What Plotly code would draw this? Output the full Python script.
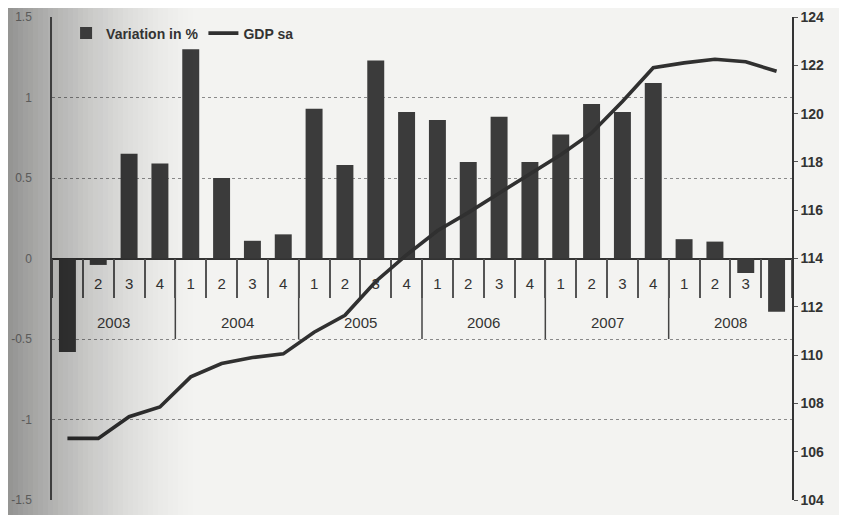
import plotly.graph_objects as go

years = ["2003"] * 4 + ["2004"] * 4 + ["2005"] * 4 + ["2006"] * 4 + ["2007"] * 4 + ["2008"] * 4
quarters = ["1", "2", "3", "4"] * 6
year_labels = ["2003", "2004", "2005", "2006", "2007", "2008"]

variation = [-0.58, -0.04, 0.65, 0.59, 1.30, 0.50, 0.11, 0.15,
             0.93, 0.58, 1.23, 0.91, 0.86, 0.60, 0.88, 0.60,
             0.77, 0.96, 0.91, 1.09, 0.12, 0.105, -0.09, -0.33]

gdp_sa = [106.55, 106.55, 107.45, 107.85, 109.1, 109.65, 109.9, 110.05,
          110.95, 111.65, 113.05, 114.15, 115.15, 115.9, 116.7, 117.5,
          118.3, 119.2, 120.5, 121.9, 122.1, 122.25, 122.15, 121.75]

left_ticks = [-1.5, -1.0, -0.5, 0, 0.5, 1.0, 1.5]
left_labels = ["-1.5", "-1", "-0.5", "0", "0.5", "1", "1.5"]
right_ticks = list(range(104, 125, 2))

cats = [f"{y} Q{q}" for y, q in zip(years, quarters)]
n = len(cats)

fig = go.Figure()
fig.add_trace(go.Bar(
    x=cats, y=variation, name="Variation in %",
    marker=dict(color="#3b3b3b", line=dict(width=0)),
    yaxis="y",
))
fig.add_trace(go.Scatter(
    x=cats, y=gdp_sa, name="GDP sa", mode="lines",
    line=dict(color="#303030", width=3.6),
    yaxis="y2",
))

shapes = []
# year separators in the category band
for k in range(1, len(year_labels)):
    xb = 4 * k - 0.5
    shapes.append(dict(type="line", xref="x", yref="y", x0=xb, x1=xb, y0=0, y1=-0.5,
                       line=dict(color="#444444", width=1.5), layer="below"))

# page-curl shadow at the left edge of the scan (figure is offset 8px by page margin)
L, PW = 44, 740
for i in range(40):
    p0 = i * 5
    p1 = p0 + 5
    mid = (p0 + p1) / 2 + 8
    t = max(0.0, 1 - mid / 200)
    a = 0.42 * t ** 1.5
    if a <= 0.003:
        continue
    shapes.append(dict(
        type="rect", xref="paper", yref="paper",
        x0=(p0 - L) / PW, x1=(p1 - L) / PW, y0=-0.05, y1=1.05,
        fillcolor="black", opacity=a, line=dict(width=0), layer="above",
    ))

annotations = []
for k, yl in enumerate(year_labels):
    annotations.append(dict(x=4 * k + 1.5, y=-0.395, xref="x", yref="y", text=yl,
                            showarrow=False, font=dict(size=15, color="#333333")))

fig.update_layout(
    width=839, height=507,
    margin=dict(l=44, r=55, t=9, b=15),
    paper_bgcolor="#f3f3f1", plot_bgcolor="#f3f3f1",
    font=dict(family="Liberation Sans, Arial, sans-serif", color="#333333"),
    bargap=0.45,
    showlegend=True,
    legend=dict(orientation="h", x=0.019, y=0.999, xanchor="left", yanchor="top",
                bgcolor="rgba(0,0,0,0)", font=dict(size=14, color="#333333", weight="bold"),
                itemwidth=30),
    xaxis=dict(
        type="category", range=[-0.5, n - 0.5], anchor="free", position=0.5,
        showline=True, linecolor="#333333", linewidth=1.5,
        ticks="outside", tickson="boundaries", ticklen=39, tickcolor="#555555", tickwidth=1.5,
        tickvals=cats, ticktext=quarters,
        tickfont=dict(size=15, color="#333333"), ticklabelstandoff=12,
        showgrid=False, layer="below traces", automargin=False,
    ),
    yaxis=dict(
        range=[-1.5, 1.5], tickvals=left_ticks, ticktext=left_labels,
        showgrid=True, gridcolor="#8a8a8a", griddash="dot", gridwidth=1,
        zeroline=False, showline=True, linecolor="#555555", linewidth=1.5,
        tickfont=dict(size=12, color="#8a8a8a"), ticks="", ticklabelstandoff=16,
        automargin=False,
    ),
    yaxis2=dict(
        range=[104, 124], tickvals=right_ticks, overlaying="y", side="right",
        showgrid=False, zeroline=False, showline=True, linecolor="#333333", linewidth=1.5,
        ticks="outside", ticklen=4, tickcolor="#555555",
        tickfont=dict(size=14, color="#333333", weight="bold"), automargin=False,
    ),
    shapes=shapes,
    annotations=annotations,
)

fig.write_html("out.html")
